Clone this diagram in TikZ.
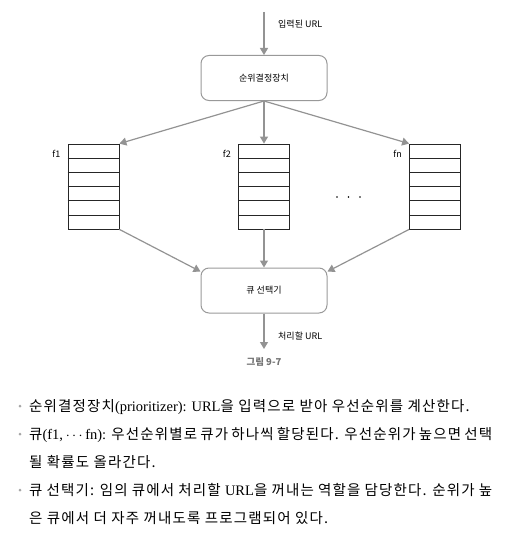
\documentclass[tikz,border=0pt]{standalone}
\usepackage{fontspec}
\setmainfont{Noto Sans CJK KR}
\newfontfamily\bodykr[LetterSpace=8]{Noto Sans CJK KR}
\newfontfamily\latin{Liberation Serif}
\usetikzlibrary{arrows.meta,calc}

\begin{document}
\begin{tikzpicture}[x=1pt, y=-1pt, every node/.style = {font=\fontsize{9}{11}\selectfont, inner sep=0pt}, stage/.style = {draw=gray!80, line width=1pt, rounded corners=8pt, minimum width=126pt, minimum height=45pt}, queue/.style = {draw=black!85, line width=0.8pt, minimum width=51pt, minimum height=85pt}, flow/.style = {draw=gray!85, line width=1.2pt, -{Triangle[width=8pt,length=7pt]}}, bodyline/.style = {anchor=base west, font=\fontsize{14.5}{18}\selectfont\bodykr}]
\useasboundingbox (0,0) rectangle (508,535);
% stages
\node[stage] (prio) at (264,78) {순위결정장치};
\node[stage] (sel) at (264,290.5) {큐 선택기};
% queues
\node[queue] (q1) at (93.5,186.5) {};
\node[queue] (q2) at (264,186.5) {};
\node[queue] (qn) at (435,186.5) {};
\foreach \q in {q1,q2,qn}
	\foreach \k in {1,...,5}
		\draw[black!85, line width=0.8pt] ($(\q.north west)!\k/6!(\q.south west)$) -- ($(\q.north east)!\k/6!(\q.south east)$);
\node[anchor=east] (l1) at ([xshift=-7pt,yshift=-10pt]q1.north west) {f1};
\node[anchor=east] (l2) at ([xshift=-7pt,yshift=-10pt]q2.north west) {f2};
\node[anchor=east] (ln) at ([xshift=-7pt,yshift=-10pt]qn.north west) {fn};
\foreach \x in {337,348.5,360}
	\fill (\x,197) circle (0.9pt);
% flow
\coordinate (in) at (264,12);
\coordinate (out) at (264,349);
\draw[flow] (in) -- (prio.north);
\node[anchor=west] (inlabel) at (278,24) {입력된 URL};
\draw[flow] (prio.south) -- (q1.north east);
\draw[flow] (prio.south) -- (q2.north);
\draw[flow] (prio.south) -- (qn.north west);
\draw[flow] (q1.south east) -- ([yshift=-4pt]sel.north west);
\draw[flow] (q2.south) -- (sel.north);
\draw[flow] (qn.south west) -- ([yshift=-4pt]sel.north east);
\draw[flow] (sel.south) -- (out);
\node[anchor=west] (outlabel) at (278,336) {처리할 URL};
\node[text=black!55, font=\fontsize{9.5}{11}\selectfont\bfseries] (caption) at (264,362) {그림 9-7};
% notes
\foreach \y in {406,434,490}
	\fill[gray!70] (20,\y) circle (1.5pt);
\node[bodyline] (t1) at (29,411) {순위결정장치{\latin(prioritizer): URL}을 입력으로 받아 우선순위를 계산한다.};
\node[bodyline] (t2) at (29,439) {\makebox[463pt][s]{큐{\latin(f1, $\cdots$ fn):} 우선순위별로 큐가 하나씩 할당된다. 우선순위가 높으면 선택}};
\node[bodyline] (t3) at (29,467) {될 확률도 올라간다.};
\node[bodyline] (t4) at (29,495) {\makebox[463pt][s]{큐 선택기: 임의 큐에서 처리할 {\latin URL}을 꺼내는 역할을 담당한다. 순위가 높}};
\node[bodyline] (t5) at (29,523) {은 큐에서 더 자주 꺼내도록 프로그램되어 있다.};
\end{tikzpicture}
\end{document}
